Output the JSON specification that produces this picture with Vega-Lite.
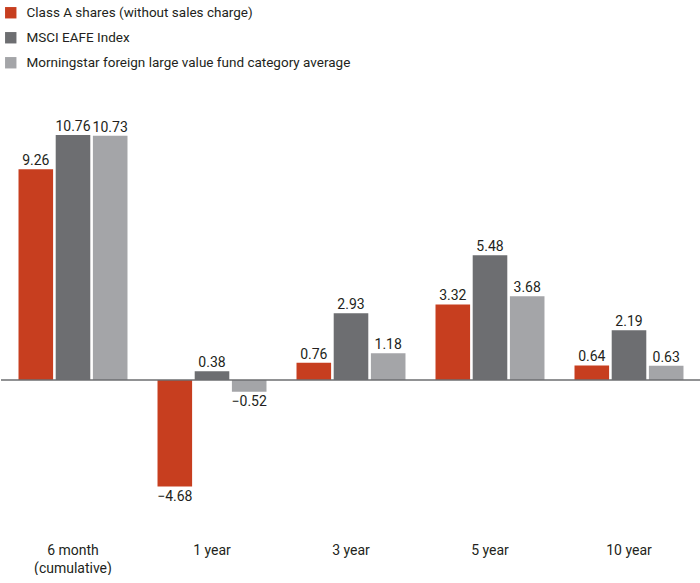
{
  "$schema": "https://vega.github.io/schema/vega-lite/v6.json",
  "width": 700,
  "height": 500,
  "padding": 0,
  "autosize": {"type": "pad"},
  "background": "white",
  "config": {
    "view": {"stroke": null},
    "font": "Roboto",
    "text": {"font": "Roboto"}
  },
  "data": {
    "values": [
      {"period": "6 month (cumulative)", "series": "Class A shares (without sales charge)", "value": 9.26},
      {"period": "6 month (cumulative)", "series": "MSCI EAFE Index", "value": 10.76},
      {"period": "6 month (cumulative)", "series": "Morningstar foreign large value fund category average", "value": 10.73},
      {"period": "1 year", "series": "Class A shares (without sales charge)", "value": -4.68},
      {"period": "1 year", "series": "MSCI EAFE Index", "value": 0.38},
      {"period": "1 year", "series": "Morningstar foreign large value fund category average", "value": -0.52},
      {"period": "3 year", "series": "Class A shares (without sales charge)", "value": 0.76},
      {"period": "3 year", "series": "MSCI EAFE Index", "value": 2.93},
      {"period": "3 year", "series": "Morningstar foreign large value fund category average", "value": 1.18},
      {"period": "5 year", "series": "Class A shares (without sales charge)", "value": 3.32},
      {"period": "5 year", "series": "MSCI EAFE Index", "value": 5.48},
      {"period": "5 year", "series": "Morningstar foreign large value fund category average", "value": 3.68},
      {"period": "10 year", "series": "Class A shares (without sales charge)", "value": 0.64},
      {"period": "10 year", "series": "MSCI EAFE Index", "value": 2.19},
      {"period": "10 year", "series": "Morningstar foreign large value fund category average", "value": 0.63}
    ]
  },
  "encoding": {
    "x": {
      "field": "period",
      "type": "nominal",
      "sort": null,
      "scale": {"paddingInner": 0.216, "paddingOuter": 0.126},
      "axis": {
        "title": null,
        "orient": "bottom",
        "domain": false,
        "ticks": false,
        "labelAngle": 0,
        "labelFont": "Roboto",
        "labelFontSize": 14,
        "labelColor": "#231F20",
        "labelPadding": 43,
        "labelLineHeight": 18,
        "labelExpr": "datum.value == '6 month (cumulative)' ? ['6 month', '(cumulative)'] : datum.value"
      }
    },
    "xOffset": {
      "field": "series",
      "type": "nominal",
      "sort": null,
      "scale": {"paddingInner": 0.07}
    },
    "y": {
      "field": "value",
      "type": "quantitative",
      "scale": {"domain": [-5.27, 16.69], "nice": false, "zero": false},
      "axis": null
    }
  },
  "layer": [
    {
      "mark": {"type": "bar"},
      "encoding": {
        "color": {
          "field": "series",
          "type": "nominal",
          "sort": null,
          "scale": {
            "domain": ["Class A shares (without sales charge)", "MSCI EAFE Index", "Morningstar foreign large value fund category average"],
            "range": ["#C73E1F", "#6D6E71", "#A4A5A8"]
          },
          "legend": {
            "title": null,
            "orient": "none",
            "legendX": 3,
            "legendY": 6,
            "symbolType": "square",
            "symbolSize": 130,
            "symbolStrokeWidth": 0,
            "labelFont": "Roboto",
            "labelFontSize": 13.5,
            "labelColor": "#231F20",
            "labelOffset": 9,
            "rowPadding": 10,
            "labelLimit": 500
          }
        }
      }
    },
    {
      "transform": [{"filter": "datum.value >= 0"}],
      "mark": {"type": "text", "baseline": "alphabetic", "dy": -4, "fontSize": 14, "color": "#231F20"},
      "encoding": {"text": {"field": "value", "type": "quantitative", "format": ".2f"}}
    },
    {
      "transform": [{"filter": "datum.value < 0"}],
      "mark": {"type": "text", "baseline": "alphabetic", "dy": 14, "fontSize": 14, "color": "#231F20"},
      "encoding": {"text": {"field": "value", "type": "quantitative", "format": ".2f"}}
    },
    {
      "data": {"values": [{"zero": 0}]},
      "mark": {"type": "rule", "color": "#6D6E71", "strokeWidth": 1.5},
      "encoding": {
        "y": {"field": "zero", "type": "quantitative"},
        "x": {"value": 0},
        "x2": {"value": 700},
        "xOffset": null
      }
    }
  ]
}
